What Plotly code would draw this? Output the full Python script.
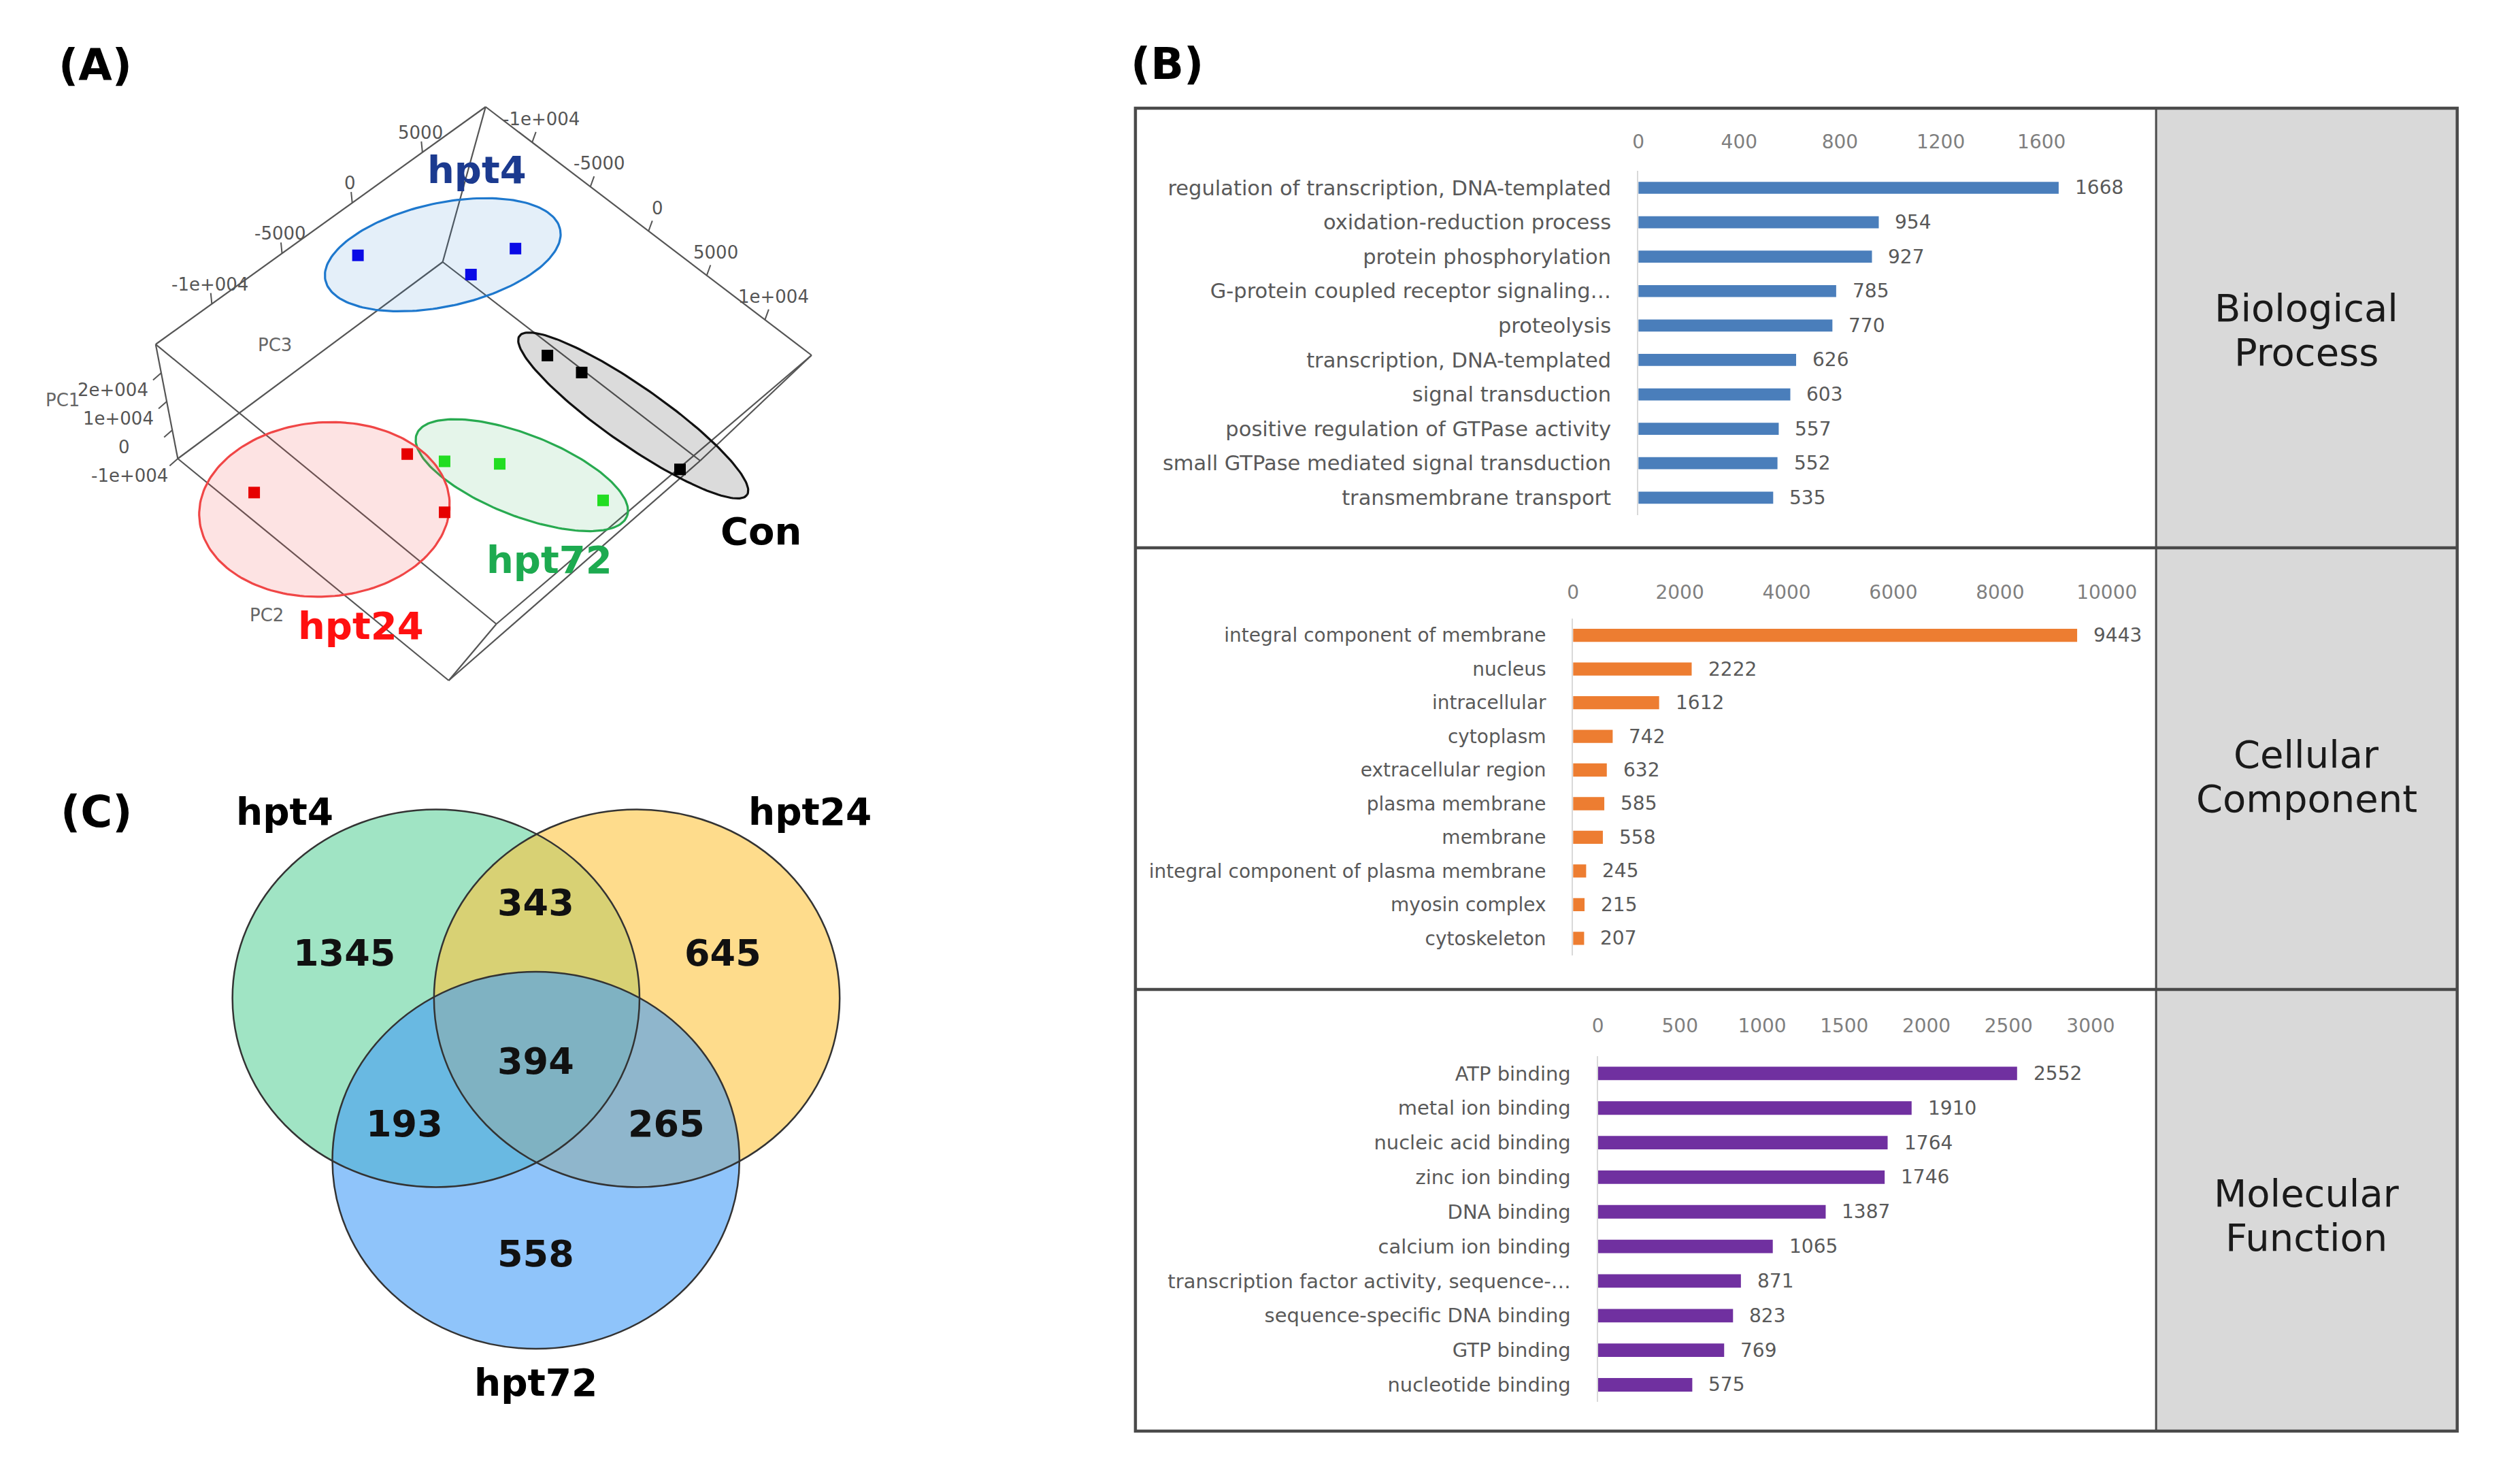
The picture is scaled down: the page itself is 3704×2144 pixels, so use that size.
import numpy as np
import plotly.graph_objects as go

W, H = 3704, 2144

# ---------------- data: (A) PCA scores ----------------
hpt4_pc1 = [25000, 22000, 24000]
hpt4_pc2 = [-11670, -6220, -5500]
hpt4_pc3 = [-1400, 2530, 5070]
con_pc1 = [10000, 8000, 6000]
con_pc2 = [580, 3080, 13700]
con_pc3 = [3940, 4880, 4270]
hpt72_pc1 = [0, -2000, -4000]
hpt72_pc2 = [970, 3720, 11300]
hpt72_pc3 = [-3860, -1250, 1620]
hpt24_pc1 = [-6000, 2000, -8000]
hpt24_pc2 = [-7290, -1090, 3380]
hpt24_pc3 = [-12950, -5420, -5170]

pc1_ticks = [-10000, 0, 10000, 20000]
pc1_ticktext = ["-1e+004", "0", "1e+004", "2e+004"]
pc2_ticks = [-10000, -5000, 0, 5000, 10000]
pc2_ticktext = ["-1e+004", "-5000", "0", "5000", "1e+004"]
pc3_ticks = [-10000, -5000, 0, 5000]
pc3_ticktext = ["-1e+004", "-5000", "0", "5000"]

# ---------------- data: (B) GO terms ----------------
bp_terms = ["regulation of transcription, DNA-templated", "oxidation-reduction process",
            "protein phosphorylation", "G-protein coupled receptor signaling\u2026", "proteolysis",
            "transcription, DNA-templated", "signal transduction",
            "positive regulation of GTPase activity", "small GTPase mediated signal transduction",
            "transmembrane transport"]
bp_counts = [1668, 954, 927, 785, 770, 626, 603, 557, 552, 535]
cc_terms = ["integral component of membrane", "nucleus", "intracellular", "cytoplasm",
            "extracellular region", "plasma membrane", "membrane",
            "integral component of plasma membrane", "myosin complex", "cytoskeleton"]
cc_counts = [9443, 2222, 1612, 742, 632, 585, 558, 245, 215, 207]
mf_terms = ["ATP binding", "metal ion binding", "nucleic acid binding", "zinc ion binding",
            "DNA binding", "calcium ion binding", "transcription factor activity, sequence-\u2026",
            "sequence-specific DNA binding", "GTP binding", "nucleotide binding"]
mf_counts = [2552, 1910, 1764, 1746, 1387, 1065, 871, 823, 769, 575]
bp_ticks = [0, 400, 800, 1200, 1600]
cc_ticks = [0, 2000, 4000, 6000, 8000, 10000]
mf_ticks = [0, 500, 1000, 1500, 2000, 2500, 3000]

# ---------------- data: (C) Venn ----------------
venn_sets = ["hpt4", "hpt24", "hpt72"]
venn_regions = ["hpt4", "hpt24", "hpt72", "hpt4&hpt24", "hpt4&hpt72", "hpt24&hpt72", "hpt4&hpt24&hpt72"]
venn_counts = [1345, 645, 558, 343, 193, 265, 394]

# ================= layout / style =================
FONT = "DejaVu Sans"
TXT_GRAY = "#595959"

# ---- (A) view of the PCA box (corners of the box on the page, figure px) ----
PC1_LIM = (-10000, 30000)
PC2_LIM = (-14000, 14000)
PC3_LIM = (-14000, 9500)
BOX_TOP = {"l": (223, 506), "t": (715, 157), "b": (731, 917), "r": (1201, 522)}
BOX_BOT = {"l": (256, 674), "t": (651, 385), "b": (660, 1000), "r": (1035, 677)}


def project(p1, p2, p3):
    p1, p2, p3 = np.broadcast_arrays(np.asarray(p1, float), np.asarray(p2, float), np.asarray(p3, float))
    p1, p2, p3 = p1.ravel(), p2.ravel(), p3.ravel()
    u = (p3 - PC3_LIM[0]) / (PC3_LIM[1] - PC3_LIM[0])
    v = (p2 - PC2_LIM[0]) / (PC2_LIM[1] - PC2_LIM[0])
    w = (PC1_LIM[1] - p1) / (PC1_LIM[1] - PC1_LIM[0])

    def face(f):
        l, t, b, r = (np.array(f[k], float) for k in "ltbr")
        return l + np.outer(u, t - l) + np.outer(v, b - l) + np.outer(u * v, r - t - b + l)

    xy = (1 - w)[:, None] * face(BOX_TOP) + w[:, None] * face(BOX_BOT)
    return xy[:, 0], xy[:, 1]


GROUPS = [
    dict(name="hpt4", pc=(hpt4_pc1, hpt4_pc2, hpt4_pc3), marker="#0A0AE6",
         ell=dict(dx=-8, dy=-7, a=179, b=76, rot=-12), line="rgb(30,120,205)", fill="rgba(30,120,205,0.12)",
         label_xy=(702, 249), label_color="#1B3A8F"),
    dict(name="Con", pc=(con_pc1, con_pc2, con_pc3), marker="#000000",
         ell=dict(dx=45, dy=24, a=206, b=43, rot=34.5), line="#111111", fill="rgba(40,40,40,0.17)",
         label_xy=(1126, 780), label_color="#000000"),
    dict(name="hpt72", pc=(hpt72_pc1, hpt72_pc2, hpt72_pc3), marker="#22DD22",
         ell=dict(dx=9, dy=0, a=168, b=60, rot=21), line="rgb(40,170,80)", fill="rgba(40,170,80,0.12)",
         label_xy=(810, 822), label_color="#1DAA50"),
    dict(name="hpt24", pc=(hpt24_pc1, hpt24_pc2, hpt24_pc3), marker="#E60000",
         ell=dict(dx=-66, dy=34, a=187, b=128, rot=-4), line="rgb(240,70,70)", fill="rgba(240,70,70,0.15)",
         label_xy=(529, 919), label_color="#FF1010"),
]

# ---- (B) geometry (figure px) ----
B_BOX = (1684, 159, 3655, 2103)
B_DIV_Y = [805, 1454]
B_COL_X = 3206
BAR_PANELS = [
    dict(terms=bp_terms, counts=bp_counts, ticks=bp_ticks, color="#4A7EBB", xmax=1800,
         x0=2434, x1=3110.3, y0=250.7, y1=756.6, tl=21, width=0.35, cat_size=30.5,
         side=("Biological", "Process"), side_y=(452, 517)),
    dict(terms=cc_terms, counts=cc_counts, ticks=cc_ticks, color="#ED7D31", xmax=10005,
         x0=2336.6, x1=3133, y0=908.9, y1=1403.6, tl=17, width=0.39, cat_size=28,
         side=("Cellular", "Component"), side_y=(1108, 1173)),
    dict(terms=mf_terms, counts=mf_counts, ticks=mf_ticks, color="#7030A0", xmax=3005,
         x0=2373.5, x1=3109.7, y0=1552, y1=2060.4, tl=23, width=0.39, cat_size=29,
         side=("Molecular", "Function"), side_y=(1753, 1818)),
]

# ---- (C) Venn geometry (figure px) ----
VENN_SHAPES = {
    "hpt4": dict(cx=641, cy=1467, rx=303.5, ry=277.5, color="rgb(97,210,157)", label=(415, 1193)),
    "hpt24": dict(cx=940.5, cy=1467, rx=302.5, ry=277.5, color="rgb(253,197,63)", label=(1199, 1193)),
    "hpt72": dict(cx=790, cy=1705, rx=303.5, ry=277, color="rgb(68,157,247)", label=(790, 2032)),
}
VENN_TEXT_POS = {
    "hpt4": (504, 1400), "hpt24": (1069, 1400), "hpt72": (790, 1842),
    "hpt4&hpt24": (790, 1326), "hpt4&hpt72": (594, 1651), "hpt24&hpt72": (985, 1651),
    "hpt4&hpt24&hpt72": (790, 1559),
}

fig = go.Figure()
annotations = []
shapes = []


def ann(x, y, text, size, color="#000", bold=False, xanchor="center", yanchor="middle", xref="x", yref="y",
        family=FONT, **kw):
    t = f"<b>{text}</b>" if bold else text
    annotations.append(dict(x=x, y=y, xref=xref, yref=yref, text=t, showarrow=False,
                            xanchor=xanchor, yanchor=yanchor,
                            font=dict(family=family, size=size, color=color), **kw))


# ================= (A) PCA 3D box =================
ex, ey = [], []
lims = [PC1_LIM, PC2_LIM, PC3_LIM]
for axis in range(3):
    others = [i for i in range(3) if i != axis]
    for a in lims[others[0]]:
        for b in lims[others[1]]:
            p = [None, None, None]
            p[others[0]] = a
            p[others[1]] = b
            p[axis] = list(lims[axis])
            xs, ys = project(*p)
            ex += list(xs) + [None]
            ey += list(ys) + [None]
fig.add_trace(go.Scatter(x=ex, y=ey, mode="lines", line=dict(color="#555555", width=2.2),
                         hoverinfo="skip", xaxis="x", yaxis="y"))

# axis ticks
tick_specs = [
    (project(PC1_LIM[1], PC2_LIM[0], pc3_ticks), pc3_ticktext, (-3, -29), (-0.1, -1.0)),
    (project(PC1_LIM[1], pc2_ticks, PC3_LIM[1]), pc2_ticktext, (13, -34), (0.35, -0.95)),
    (project(pc1_ticks, PC2_LIM[0], PC3_LIM[0]), pc1_ticktext, (-72, 25), (-0.76, 0.65)),
]
tx, ty = [], []
for (xs, ys), labels, off, d in tick_specs:
    for x0, y0, lab in zip(xs, ys, labels):
        tx += [x0, x0 + d[0] * 16, None]
        ty += [y0, y0 + d[1] * 16, None]
        ann(x0 + off[0], y0 + off[1], lab, 26, color="#555555")
fig.add_trace(go.Scatter(x=tx, y=ty, mode="lines", line=dict(color="#555555", width=2),
                         hoverinfo="skip", xaxis="x", yaxis="y"))

ann(401, 507, "PC3", 26, color="#666666")
ann(389, 904, "PC2", 26, color="#666666")
ann(84, 588, "PC1", 26, color="#666666")

# ellipses and points
t = np.linspace(0, 2 * np.pi, 181)
for g in GROUPS:
    px, py = project(*g["pc"])
    e = g["ell"]
    cx, cy = px.mean() + e["dx"], py.mean() + e["dy"]
    phi = np.deg2rad(e["rot"])
    xs = cx + e["a"] * np.cos(t) * np.cos(phi) - e["b"] * np.sin(t) * np.sin(phi)
    ys = cy + e["a"] * np.cos(t) * np.sin(phi) + e["b"] * np.sin(t) * np.cos(phi)
    fig.add_trace(go.Scatter(x=xs, y=ys, mode="lines", fill="toself", fillcolor=g["fill"],
                             line=dict(color=g["line"], width=3.2), hoverinfo="skip",
                             xaxis="x", yaxis="y"))
for g in GROUPS:
    px, py = project(*g["pc"])
    fig.add_trace(go.Scatter(x=px, y=py, mode="markers", name=g["name"],
                             marker=dict(symbol="square", size=17, color=g["marker"]),
                             xaxis="x", yaxis="y"))
    ann(g["label_xy"][0], g["label_xy"][1], g["name"], 56, color=g["label_color"], bold=True)

# panel labels
ann(133, 96, "(A)", 64, bold=True)
ann(1731, 94, "(B)", 64, bold=True)
ann(134, 1193, "(C)", 64, bold=True)

# ================= (B) GO bar charts =================
x0b, y0b, x1b, y1b = B_BOX
shapes.append(dict(type="rect", xref="x", yref="y", x0=B_COL_X, x1=x1b, y0=y0b, y1=y1b,
                   fillcolor="#D9D9D9", line=dict(width=0), layer="below"))
shapes.append(dict(type="rect", xref="x", yref="y", x0=x0b, x1=x1b, y0=y0b, y1=y1b,
                   line=dict(color="#4a4a4a", width=4.5)))
for yd in B_DIV_Y:
    shapes.append(dict(type="line", xref="x", yref="y", x0=x0b, x1=x1b, y0=yd, y1=yd,
                       line=dict(color="#4a4a4a", width=4.5)))
shapes.append(dict(type="line", xref="x", yref="y", x0=B_COL_X, x1=B_COL_X, y0=y0b, y1=y1b,
                   line=dict(color="#4a4a4a", width=3)))

layout_axes = {}
for i, p in enumerate(BAR_PANELS, start=2):
    xa, ya = f"x{i}", f"y{i}"
    fig.add_trace(go.Bar(x=p["counts"], y=p["terms"], orientation="h", width=p["width"],
                         marker=dict(color=p["color"], line=dict(width=0)),
                         xaxis=xa, yaxis=ya, hoverinfo="x+y"))
    for c, term in zip(p["counts"], p["terms"]):
        ann(c, term, str(c), 28, color=TXT_GRAY, xanchor="left", xref=xa, yref=ya, xshift=22)
    layout_axes[f"xaxis{i}"] = dict(
        domain=[p["x0"] / W, p["x1"] / W], range=[0, p["xmax"]], anchor=ya, side="top",
        tickvals=p["ticks"], ticktext=[str(v) for v in p["ticks"]], showgrid=False, zeroline=False,
        showline=False, ticks="outside", ticklen=p["tl"], tickcolor="rgba(0,0,0,0)",
        tickfont=dict(family=FONT, size=28, color="#7f7f7f"), fixedrange=True)
    layout_axes[f"yaxis{i}"] = dict(
        domain=[1 - p["y1"] / H, 1 - p["y0"] / H], anchor=xa, type="category",
        categoryorder="array", categoryarray=p["terms"], range=[len(p["terms"]) - 0.5, -0.5],
        showline=True, linecolor="#D9D9D9", linewidth=2, showgrid=False, zeroline=False,
        ticks="outside", ticklen=32, tickcolor="rgba(0,0,0,0)",
        tickfont=dict(family=FONT, size=p["cat_size"], color=TXT_GRAY), fixedrange=True)
    xc = (B_COL_X + x1b) / 2
    for line_txt, yy in zip(p["side"], p["side_y"]):
        ann(xc, yy, line_txt, 56, color="#1a1a1a")

# ================= (C) Venn =================
for name in venn_sets:
    s = VENN_SHAPES[name]
    shapes.append(dict(type="circle", xref="x", yref="y", x0=s["cx"] - s["rx"], x1=s["cx"] + s["rx"],
                       y0=s["cy"] - s["ry"], y1=s["cy"] + s["ry"], fillcolor=s["color"], opacity=0.6,
                       line=dict(width=0), layer="below"))
for name in venn_sets:
    s = VENN_SHAPES[name]
    shapes.append(dict(type="circle", xref="x", yref="y", x0=s["cx"] - s["rx"], x1=s["cx"] + s["rx"],
                       y0=s["cy"] - s["ry"], y1=s["cy"] + s["ry"], fillcolor="rgba(0,0,0,0)",
                       line=dict(color="#333333", width=2.5)))
    ann(s["label"][0], s["label"][1], name, 55, bold=True)
for region, count in zip(venn_regions, venn_counts):
    xx, yy = VENN_TEXT_POS[region]
    ann(xx, yy, str(count), 54, bold=True, color="#111111")

fig.update_layout(
    width=W, height=H, margin=dict(l=0, r=0, t=0, b=0, pad=0),
    paper_bgcolor="white", plot_bgcolor="rgba(0,0,0,0)", showlegend=False,
    font=dict(family=FONT),
    xaxis=dict(domain=[0, 1], range=[0, W], visible=False, fixedrange=True),
    yaxis=dict(domain=[0, 1], range=[H, 0], visible=False, fixedrange=True),
    annotations=annotations, shapes=shapes, bargap=0.6,
    **layout_axes,
)

fig.write_html("out.html", config={"displayModeBar": False},
               post_script="document.body.style.margin='0';")
